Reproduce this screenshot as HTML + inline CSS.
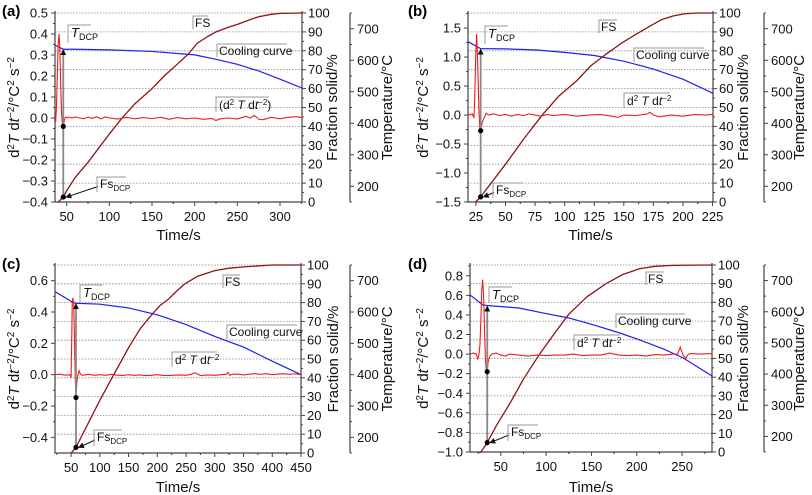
<!DOCTYPE html>
<html><head><meta charset="utf-8"><style>
html,body{margin:0;padding:0;background:#fff;}
svg{display:block;font-family:"Liberation Sans",Arial,sans-serif;}
</style></head><body>
<svg id="chart" xmlns="http://www.w3.org/2000/svg" width="812" height="495" viewBox="0 0 812 495"></svg>
<script>
// ---------- data (a) ----------
const aCoolTime = [36.3,46,60,100,150,200,225,250,275,300,325.8];
const aCoolTemp = [648,635,635,633,628,617,603,587,566,540,512];
const aFsTime = [40,46,50,60,75,90,100,116,130,150,165,175,193,203,215,225,240,250,265,275,290,300,325.8];
const aFs = [0,2.6,6,13,21,30,36,45,52,60,67,71,78.5,84,87.5,90,92.5,94,96.5,98,99.3,99.8,100];
const aD2Time = [37,38,39,40,41,42,43,44,45,46,47.5,49,51,53,56,60,65,70,75,80,85,90,95,100,110,120,130,140,150,160,170,180,190,200,210,220,225,230,240,250,260,265,270,275,280,290,300,310,320,325];
const aD2 = [-0.02,0.05,0.2,0.35,0.4,0.33,0.15,0.02,-0.03,-0.04,-0.005,0.005,0.0,0.005,0.0,0.005,0.0,-0.003,0.004,-0.002,0.006,-0.004,0.005,0.0,-0.005,0.003,-0.004,0.002,-0.003,0.003,-0.006,0.002,-0.004,0.0,-0.006,-0.002,-0.012,-0.004,0.0,-0.005,0.008,0.0,0.012,-0.006,-0.008,0.003,-0.004,0.004,0.006,0.002];
// ---------- data (b) ----------
const bCoolTime = [18.3,29,50,75,100,125,150,175,200,225.4];
const bCoolTemp = [659,637,636,633,625,615,597,572,540,495];
const bFsTime = [24.7,29,50,65,81,95,110,122,134.5,148,161,172,182,192,201.5,212,225.4];
const bFs = [0,2.7,20,33,46,56,64,72,78,84,89,93,96.5,98.5,99.6,100,100];
const bD2Time = [18.3,20,22,23.3,24,24.8,25.6,26.5,27.5,28.3,29,30.4,32,33.5,36,40,45,50,55,60,65,70,75,80,85,90,100,110,120,130,140,145,150,160,170,172,175,180,190,200,210,220,225];
const bD2 = [0.02,0.0,0.02,-0.05,0.3,1.0,1.4,0.9,0.1,-0.25,-0.27,-0.12,-0.05,0.03,0.0,0.02,-0.01,0.01,-0.02,0.01,-0.01,0.02,0.0,-0.02,0.01,-0.01,0.01,-0.02,0.0,0.01,-0.02,-0.04,0.0,-0.01,0.02,0.05,0.0,-0.03,0.0,-0.02,0.01,0.0,0.01];
// ---------- data (c) ----------
const cCoolTime = [22,52,58.5,100,150,200,250,300,350,400,450];
const cCoolTemp = [665,632,628,625,613,591,560,522,488,443,400];
const cFsTime = [50,58.5,80,100,123,150,170,190,205,220,235,248,270,300,325,350,400,450];
const cFs = [0,3,16,28,41,56,66,73.5,78.5,82,86.5,90,94,97,98.3,99,100,100];
const cD2Time = [22,30,40,48,50,51,52,53,54.5,56,57.5,58.5,60,62,64,66,70,80,90,100,110,120,130,140,150,160,170,180,190,200,210,220,230,240,250,260,265,270,275,280,290,300,310,320,323,326,330,340,350,360,370,380,390,400,410,420,430,440,450];
const cD2 = [0.0,0.003,-0.003,0.0,-0.02,0.2,0.45,0.49,0.46,0.2,-0.05,-0.146,-0.05,0.0,0.025,0.005,-0.005,0.003,-0.004,0.0,-0.004,0.002,-0.003,-0.005,0.0,-0.004,-0.002,-0.006,-0.004,0.0,-0.005,-0.006,-0.003,-0.002,-0.004,0.004,0.012,0.004,-0.006,-0.004,-0.002,-0.004,0.0,0.002,0.015,-0.004,0.002,0.004,-0.002,0.003,0.006,0.002,0.006,0.0,0.004,0.006,0.002,0.005,0.0];
// ---------- data (d) ----------
const dCoolTime = [16,30,35,70,95,125,152,180,203,230,251,283];
const dCoolTemp = [654,622,620,612,597,580,558,533,510,480,452,394];
const dFsTime = [22,28,35,45,60,75,93,110,125,145,166,185,203,220,240,283];
const dFs = [-2,0,5,14,26,39,52.5,64,73.7,83,90,95,98,99.3,99.8,100];
const dD2Time = [16,20,23,24.5,26,27,28,29,30,31,32,33,34,35,36,38,40,45,50,55,60,70,80,90,100,110,120,130,140,150,160,170,175,180,190,200,210,220,230,240,245,248,251,254,257,260,270,283];
const dD2 = [0.0,0.01,0.0,-0.05,0.0,0.1,0.35,0.65,0.76,0.6,0.25,-0.05,-0.17,-0.18,-0.08,-0.02,0.0,0.01,-0.01,-0.02,0.0,-0.01,-0.02,-0.01,-0.015,-0.01,-0.01,0.0,-0.015,-0.01,-0.01,0.01,0.0,-0.01,-0.015,-0.01,-0.02,-0.005,-0.01,0.0,0.0,0.07,-0.01,-0.04,0.0,0.005,0.0,0.005];
// ---------- DCP points ----------
const dcpTime = [46,29,58.5,35];
const dcpD2 = [-0.04,-0.27,-0.146,-0.18];
const dcpFs = [2.6,2.7,3,5];
const dcpTemp = [635,637,628,620];
// ---------- tick labels ----------
const aXTicks = [50,100,150,200,250,300];
const bXTicks = [25,50,75,100,125,150,175,200,225];
const cXTicks = [50,100,150,200,250,300,350,400,450];
const dXTicks = [50,100,150,200,250];
const aLTicks = [-0.4,-0.3,-0.2,-0.1,0.0,0.1,0.2,0.3,0.4,0.5];
const bLTicks = [-1.5,-1.0,-0.5,0.0,0.5,1.0,1.5];
const cLTicks = [-0.4,-0.2,0.0,0.2,0.4,0.6];
const dLTicks = [-1.0,-0.8,-0.6,-0.4,-0.2,0.0,0.2,0.4,0.6,0.8];
const fsTicks = [0,10,20,30,40,50,60,70,80,90,100];
const tempTicks = [200,300,400,500,600,700];

const NS = "http://www.w3.org/2000/svg";
const svg = document.getElementById('chart');
function mk(tag, parent, attrs){
  const e = document.createElementNS(NS, tag);
  for (const k in attrs) e.setAttribute(k, attrs[k]);
  parent.appendChild(e);
  return e;
}
function fmt(v){ const s = Math.abs(v).toFixed(1); return (v < -1e-9 ? '\u2212' : '') + s; }

const defs = mk('defs', svg, {});
const mark = mk('marker', defs, {id:'arr', markerWidth:'6', markerHeight:'6', refX:'5', refY:'3', orient:'auto', markerUnits:'userSpaceOnUse'});
mk('path', mark, {d:'M0,0 L6,3 L0,6 z', fill:'#111'});

const panels = [
 {id:'a', label:'(a)', x0:55, x1:302, y0:13, y1:202, tmin:36.3, tmax:325.8, lmin:-0.4, lmax:0.5, tempX:350,
  xt:aXTicks, lt:aLTicks, ct:aCoolTime, cv:aCoolTemp, ft:aFsTime, fv:aFs, dt:aD2Time, dv:aD2, k:0,
  lblX:2, lblY:16, leftTitleX:14, fracTitleX:337, tempTitleX:392, xTitleY:240,
  tdcp:[68,25,23,18], fsBox:[193,16,15,13], cool:[217,44,70,13], d2:[216,97,53,15,'(d','T','dt',')'], fsdcp:[97,177,29,15]},
 {id:'b', label:'(b)', x0:468, x1:713, y0:13, y1:202, tmin:18.3, tmax:225.4, lmin:-1.5, lmax:1.76, tempX:764,
  xt:bXTicks, lt:bLTicks, ct:bCoolTime, cv:bCoolTemp, ft:bFsTime, fv:bFs, dt:bD2Time, dv:bD2, k:1,
  lblX:408, lblY:16, leftTitleX:423, fracTitleX:748, tempTitleX:804, xTitleY:240,
  tdcp:[485,26,23,18], fsBox:[599,20,18,13], cool:[634,48,70,14], d2:[624,93,46,15,'d','T','dt',''], fsdcp:[493,183,30,15]},
 {id:'c', label:'(c)', x0:55, x1:301, y0:265, y1:453, tmin:22, tmax:450, lmin:-0.5, lmax:0.7, tempX:350,
  xt:cXTicks, lt:cLTicks, ct:cCoolTime, cv:cCoolTemp, ft:cFsTime, fv:cFs, dt:cD2Time, dv:cD2, k:2,
  lblX:2, lblY:269, leftTitleX:14, fracTitleX:338, tempTitleX:392, xTitleY:492,
  tdcp:[80,285,23,17], fsBox:[223,275,17,13], cool:[227,325,70,14], d2:[172,352,45,15,'d','T','dt',''], fsdcp:[94,430,28,16]},
 {id:'d', label:'(d)', x0:470, x1:712, y0:265, y1:452, tmin:16, tmax:283, lmin:-1.0, lmax:0.91, tempX:764,
  xt:dXTicks, lt:dLTicks, ct:dCoolTime, cv:dCoolTemp, ft:dFsTime, fv:dFs, dt:dD2Time, dv:dD2, k:3,
  lblX:408, lblY:269, leftTitleX:423, fracTitleX:748, tempTitleX:804, xTitleY:492,
  tdcp:[489,287,23,16], fsBox:[646,272,18,13], cool:[616,314,69,14], d2:[574,335,46,15,'d','T','dt',''], fsdcp:[508,425,30,16]}
];

function pathFrom(xs, ys, sx, sy){
  let d = '';
  for (let i = 0; i < xs.length; i++) d += (i ? 'L' : 'M') + sx(xs[i]).toFixed(2) + ',' + sy(ys[i]).toFixed(2);
  return d;
}

panels.forEach(p => {
  const g = mk('g', svg, {});
  
  
  const sx = t => p.x0 + (t - p.tmin) / (p.tmax - p.tmin) * (p.x1 - p.x0);
  const syL = v => p.y1 - (v - p.lmin) / (p.lmax - p.lmin) * (p.y1 - p.y0);
  const syF = f => p.y1 - f / 100 * (p.y1 - p.y0);
  const syT = T => p.y1 - (T - 150) / 600 * (p.y1 - p.y0);

  fsTicks.forEach(f => {
    if (f === 0) return;
    const gl = mk('line', g, {x1:p.x0, x2:p.x1, y1:syF(f), y2:syF(f), stroke:'#888', 'stroke-width':'0.8', 'stroke-dasharray':'1.5,1.5'});
    
    
  });

  const ax = mk('path', g, {d:`M${p.x0},${p.y0-2}V${p.y1}H${p.x1}V${p.y0-2}`, fill:'none', stroke:'#444', 'stroke-width':'1.2'});
  
  
  const tax = mk('line', g, {x1:p.tempX, x2:p.tempX, y1:p.y0, y2:p.y1, stroke:'#444', 'stroke-width':'1.2'});
  
  

  const lstep = p.lt[1] - p.lt[0];
  p.lt.forEach((v, i) => {
    const y = syL(v);
    mk('line', g, {x1:p.x0-4, x2:p.x0, y1:y, y2:y, stroke:'#444'});
    const mid = syL(v + lstep / 2);
    if (mid >= p.y0) mk('line', g, {x1:p.x0-2, x2:p.x0, y1:mid, y2:mid, stroke:'#444'});
    const t = mk('text', g, {x:p.x0-7, y:y+4.5, 'text-anchor':'end', 'font-size':'13', fill:'#111'});
    t.textContent = fmt(v);
    
    
  });
  const xstep = p.xt[1] - p.xt[0];
  p.xt.forEach(v => {
    const x = sx(v);
    mk('line', g, {x1:x, x2:x, y1:p.y1, y2:p.y1+4, stroke:'#444'});
    [v - xstep/2, v + xstep/2].forEach(m => { const xm = sx(m); if (xm > p.x0 && xm < p.x1) mk('line', g, {x1:xm, x2:xm, y1:p.y1, y2:p.y1+2, stroke:'#444'}); });
    const t = mk('text', g, {x:x, y:p.y1+19, 'text-anchor':'middle', 'font-size':'13', fill:'#111'});
    t.textContent = String(v);
    
    
  });
  fsTicks.forEach(f => {
    const y = syF(f);
    mk('line', g, {x1:p.x1, x2:p.x1+4, y1:y, y2:y, stroke:'#444'});
    if (f < 100) mk('line', g, {x1:p.x1, x2:p.x1+2, y1:syF(f+5), y2:syF(f+5), stroke:'#444'});
    const t = mk('text', g, {x:p.x1+6, y:y+4.5, 'font-size':'13', fill:'#111'});
    t.textContent = String(f);
    
    
  });
  tempTicks.forEach(T => {
    const y = syT(T);
    mk('line', g, {x1:p.tempX, x2:p.tempX+4, y1:y, y2:y, stroke:'#444'});
    mk('line', g, {x1:p.tempX, x2:p.tempX+2, y1:syT(T+50), y2:syT(T+50), stroke:'#444'});
    const t = mk('text', g, {x:p.tempX+7, y:y+4.5, 'font-size':'13', fill:'#111'});
    t.textContent = String(T);
    
    
  });
  mk('line', g, {x1:p.tempX, x2:p.tempX+2, y1:syT(150), y2:syT(150), stroke:'#444'});

  const pl = mk('text', g, {x:p.lblX, y:p.lblY, 'font-size':'15', 'font-weight':'bold', fill:'#000'});
  pl.textContent = p.label;
  
  
  const cy = (p.y0 + p.y1) / 2;
  const lt = mk('text', g, {x:0, y:0, transform:`translate(${p.leftTitleX+5},${cy}) rotate(-90)`, 'text-anchor':'middle', 'font-size':'15', fill:'#111'});
  lt.innerHTML = 'd<tspan dy="-5" font-size="10">2</tspan><tspan dy="5" font-style="italic">T</tspan> d<tspan font-style="italic">t</tspan><tspan dy="-5" font-size="10">\u22122</tspan><tspan dy="5">/°C</tspan><tspan dy="-5" font-size="10">2</tspan><tspan dy="5"> s</tspan><tspan dy="-5" font-size="10">\u22122</tspan>';
  
  
  const ft = mk('text', g, {transform:`translate(${p.fracTitleX},${cy}) rotate(-90)`, 'text-anchor':'middle', 'font-size':'15', fill:'#111'});
  ft.textContent = 'Fraction solid/%';
  
  
  const tt = mk('text', g, {transform:`translate(${p.tempTitleX},${cy}) rotate(-90)`, 'text-anchor':'middle', 'font-size':'15', fill:'#111'});
  tt.textContent = 'Temperature/°C';
  
  
  const xt = mk('text', g, {x:(p.x0+p.x1)/2, y:p.xTitleY, 'text-anchor':'middle', 'font-size':'15', fill:'#111'});
  xt.textContent = 'Time/s';
  
  

  const cp = mk('clipPath', defs, {id:'clip-' + p.id});
  mk('rect', cp, {x:p.x0, y:p.y0-1, width:p.x1-p.x0, height:p.y1-p.y0+2});
  const pg = mk('g', g, {'clip-path':`url(#clip-${p.id})`});

  const cool = mk('path', pg, {d:pathFrom(p.ct, p.cv, sx, syT), fill:'none', stroke:'#1f1fef', 'stroke-width':'1.2'});
  
  
  const fs = mk('path', pg, {d:pathFrom(p.ft, p.fv, sx, syF), fill:'none', stroke:'#8b1515', 'stroke-width':'1.3', 'stroke-linejoin':'round'});
  
  
  const d2 = mk('path', pg, {d:pathFrom(p.dt, p.dv, sx, syL), fill:'none', stroke:'#ee1c1c', 'stroke-width':'1.1'});
  
  

  const k = p.k;
  const xd = sx(dcpTime[k]);
  const vl = mk('line', g, {x1:xd, x2:xd, y1:syF(dcpFs[k]), y2:syT(dcpTemp[k])+1, stroke:'#888', 'stroke-width':'1.8', 'marker-end':'url(#arr)'});
  
  
  const d1 = mk('circle', g, {cx:xd, cy:syL(dcpD2[k]), r:'2.6', fill:'#000'});
  
  
  const d2p = mk('circle', g, {cx:xd, cy:syF(dcpFs[k]), r:'2.6', fill:'#000'});
  
  
  const fb = p.fsdcp;
  const ar = mk('line', g, {x1:fb[0]+1, y1:fb[1]+fb[3]/2+2, x2:xd+3, y2:syF(dcpFs[k]), stroke:'#111', 'stroke-width':'1', 'marker-end':'url(#arr)'});
  
  

  function box(b, name){
    const r = mk('path', g, {d:`M${b[0]},${b[1]+b[3]}V${b[1]}H${b[0]+b[2]}`, fill:'none', stroke:'#999', 'stroke-width':'1'});
    
    
  }
  const tb = p.tdcp; box(tb, 'tdcp-label');
  const tl = mk('text', g, {x:tb[0]+3, y:tb[1]+12, 'font-size':'13', fill:'#111'});
  tl.innerHTML = '<tspan font-style="italic">T</tspan><tspan dy="3" font-size="9">DCP</tspan>';
  
  
  const fbx = p.fsBox; box(fbx, 'fs-label');
  const fl = mk('text', g, {x:fbx[0]+2, y:fbx[1]+11, 'font-size':'12', fill:'#111'});
  fl.textContent = 'FS';
  
  
  const cb = p.cool; box(cb, 'cooling-curve-label');
  const cl = mk('text', g, {x:cb[0]+2, y:cb[1]+11, 'font-size':'12', fill:'#111'});
  cl.textContent = 'Cooling curve';
  
  
  const db = p.d2; box(db, 'derivative-label');
  const dl = mk('text', g, {x:db[0]+3, y:db[1]+12, 'font-size':'12', fill:'#111'});
  dl.innerHTML = db[4] + '<tspan dy="-4" font-size="8">2</tspan><tspan dy="4" font-style="italic"> T</tspan> d<tspan font-style="italic">t</tspan><tspan dy="-4" font-size="8">\u22122</tspan><tspan dy="4">' + db[7] + '</tspan>';
  
  
  box(fb, 'fsdcp-label');
  const fdl = mk('text', g, {x:fb[0]+3, y:fb[1]+11, 'font-size':'12', fill:'#111'});
  fdl.innerHTML = 'Fs<tspan dy="3" font-size="8">DCP</tspan>';
  
  
});
</script>
</body></html>
